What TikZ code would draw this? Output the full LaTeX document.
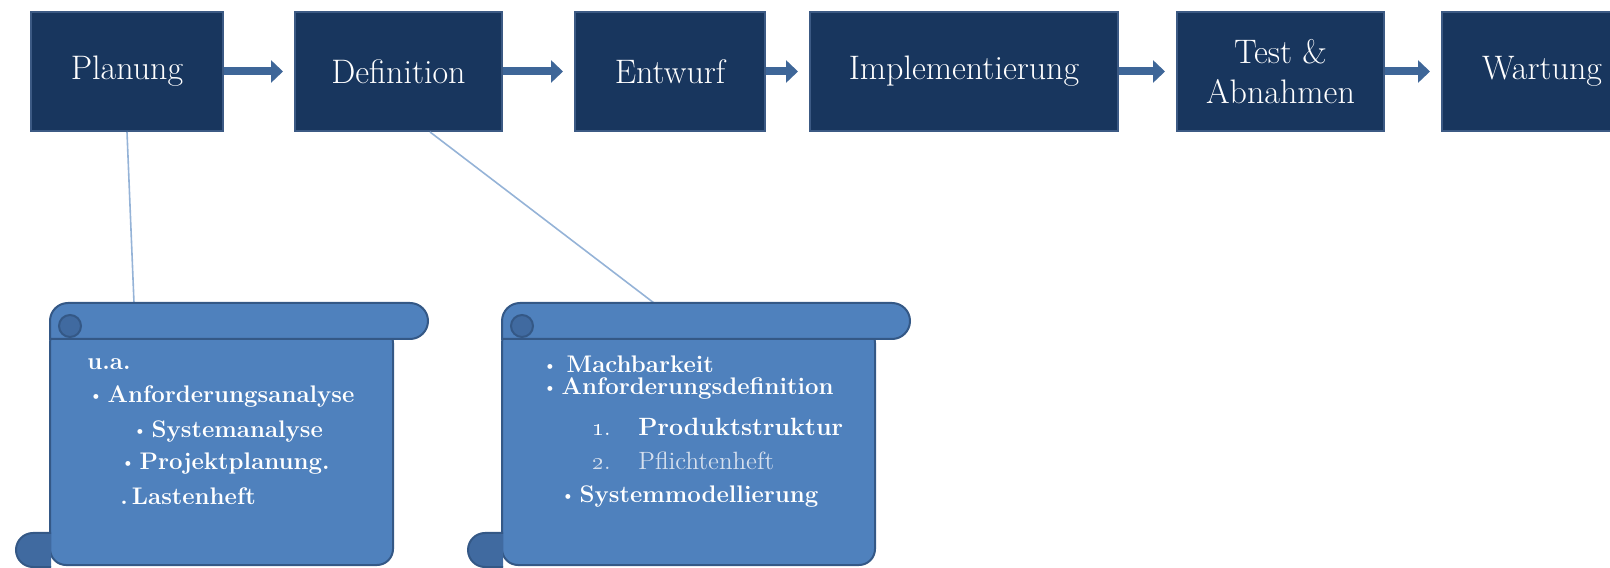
\documentclass[tikz,border=0pt]{standalone}
\usepackage{tikz}
\usetikzlibrary{positioning,arrows.meta,calc}

\definecolor{phasefill}{RGB}{24,54,94}
\definecolor{phaseedge}{RGB}{60,90,132}
\definecolor{arrowblue}{RGB}{62,102,152}
\definecolor{scrollfill}{RGB}{79,129,189}
\definecolor{scrolledge}{RGB}{52,88,134}
\definecolor{scrolldark}{RGB}{64,106,160}
\definecolor{guideblue}{RGB}{149,179,215}
\definecolor{softtext}{RGB}{214,224,238}

% small bullet as in the lists
\newcommand{\smallbullet}{\raisebox{1pt}{\fontsize{8}{8}\selectfont\textbullet}}

% scroll: #1 = left edge of the sheet, #2 = right edge of the sheet
\newcommand{\scrollshape}[2]{%
  \draw[scroll, rounded corners=8] (#1,2) rectangle (#2,240);
  \draw[scroll] (#1,228) -- (#1,246) arc[start angle=180, end angle=90, radius=18]
    -- (#2+17,264) arc[start angle=90, end angle=-90, radius=18] -- cycle;
  \draw[scroll, fill=scrolldark] (#1+20,241) circle[radius=11];
  \draw[scroll, fill=scrolldark] (#1+1,34) -- (#1-17,34)
    arc[start angle=90, end angle=270, radius=17] -- (#1+1,0);
}

\begin{document}
\begin{tikzpicture}[
    x=0.5pt, y=0.5pt,
    phase/.style={draw=phaseedge, line width=1pt, fill=phasefill, text=white, minimum height=59.5pt, align=center, font=\fontsize{17}{20}\selectfont},
    arrow/.style={-{Triangle[length=6pt, width=11pt]}, line width=4pt, arrowblue, shorten >=5.5pt},
    guide/.style={guideblue, line width=0.8pt},
    scroll/.style={draw=scrolledge, line width=1pt, fill=scrollfill},
    entry/.style={anchor=base west, inner sep=0pt, text=white, font=\bfseries\fontsize{12}{14}\selectfont}
]
\useasboundingbox (0,0) rectangle (1610,567);

% Phasen
\node[phase, minimum width=96pt] (planung) at (127,495.5) {Planung};
\node[phase, minimum width=103.5pt, right=35pt of planung] (definition) {Definition};
\node[phase, minimum width=95pt, right=35.5pt of definition] (entwurf) {Entwurf};
\node[phase, minimum width=154pt, right=21.5pt of entwurf] (implementierung) {Implementierung};
\node[phase, minimum width=103.5pt, right=28.5pt of implementierung] (test) {Test \&\\Abnahmen};
\node[phase, minimum width=100pt, right=28pt of test] (wartung) {Wartung};

\foreach \a/\b in {planung/definition, definition/entwurf, entwurf/implementierung, implementierung/test, test/wartung}
  \draw[arrow] (\a) -- (\b);

% Verbindungen zu den Rollen
\coordinate (top1) at (134,264);
\coordinate (top2) at (654,264);
\draw[guide] (planung.south) -- (top1);
\draw[guide] ($(definition.south)+(31.5,0)$) -- (top2);

% Rollen
\scrollshape{50}{393}
\scrollshape{502}{875}

% Planung
\node[entry] (ua) at (87,197) {u.a.};
\node[entry] (anfa) at (88,164) {\smallbullet\,Anforderungsanalyse};
\node[entry] (sysa) at (132,129) {\smallbullet\,Systemanalyse};
\node[entry] (proj) at (120,97) {\smallbullet\,Projektplanung.};
\node[entry] (last) at (120,62) {.\,Lastenheft};

% Definition
\node[entry] (mach) at (542,194) {\smallbullet\ Machbarkeit};
\node[entry] (anfd) at (542,172) {\smallbullet\,Anforderungsdefinition};
\node[entry, font=\fontsize{12}{14}\selectfont] (n1) at (592,131) {\oldstylenums{1}.};
\node[entry, font=\bfseries\fontsize{12.5}{14}\selectfont] (prod) at (638,131) {Produktstruktur};
\node[entry, text=softtext, font=\fontsize{12}{14}\selectfont] (n2) at (592,97) {\oldstylenums{2}.};
\node[entry, text=softtext, font=\fontsize{12.5}{14}\selectfont] (pfl) at (638,97) {Pflichtenheft};
\node[entry] (sysm) at (560,64) {\smallbullet\,Systemmodellierung};
\end{tikzpicture}
\end{document}
